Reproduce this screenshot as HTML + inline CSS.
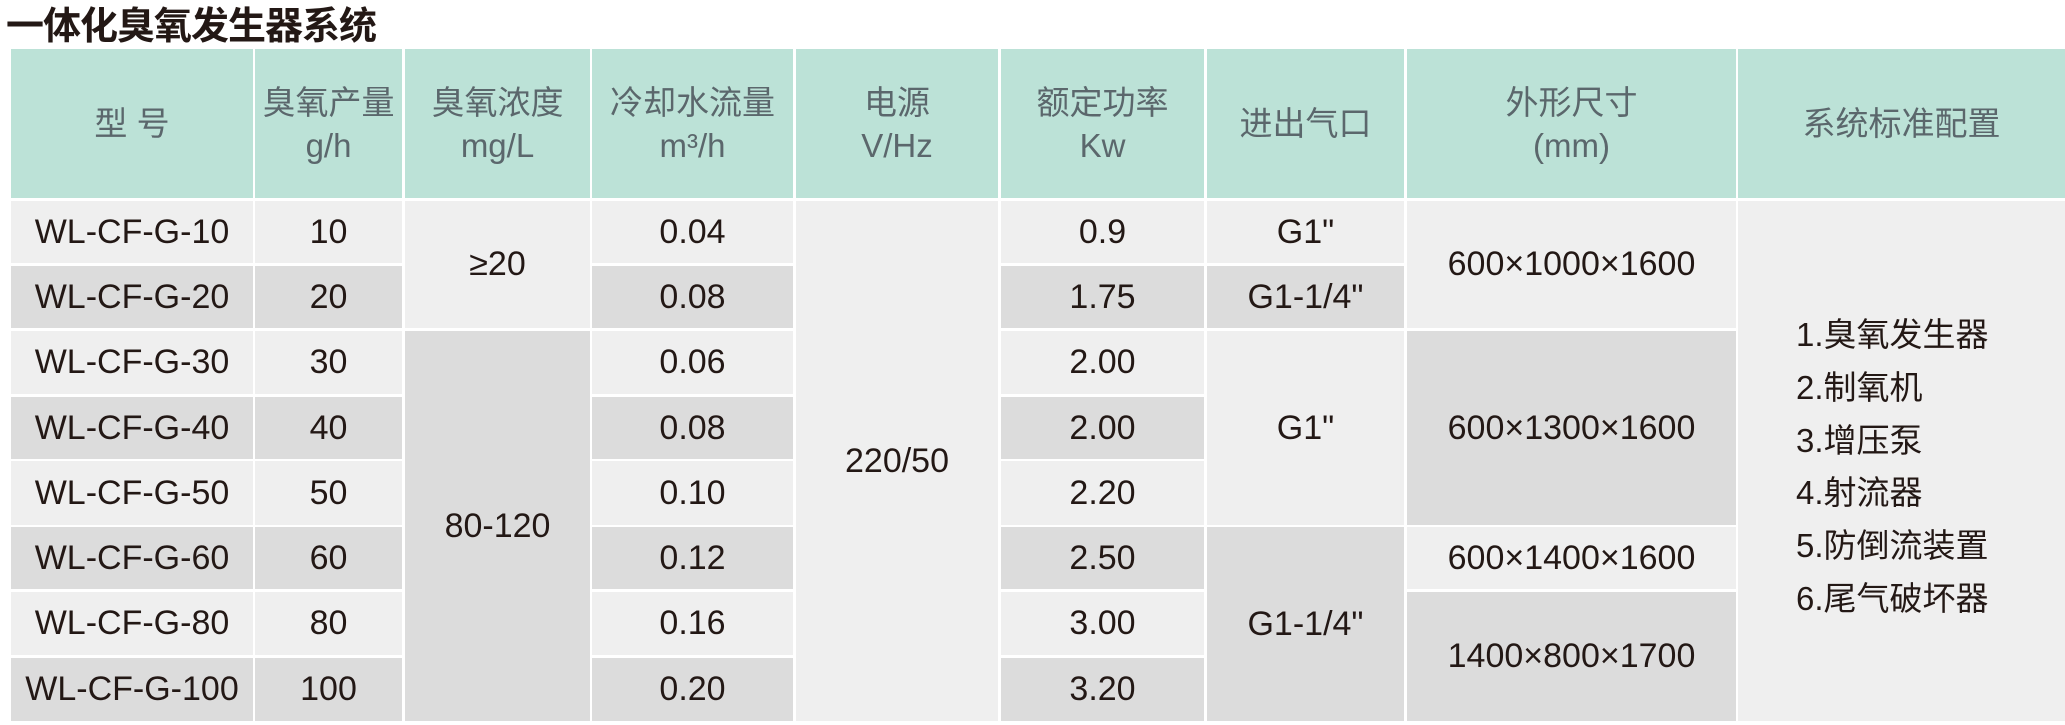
<!DOCTYPE html>
<html><head><meta charset="utf-8"><style>
body{margin:0;width:2065px;height:725px;background:#fff;position:relative;overflow:hidden;font-family:"Liberation Sans","Noto Sans CJK SC",sans-serif}
.t{position:absolute;left:6px;top:-5px;font-size:38px;font-weight:bold;color:#231815;letter-spacing:-1px}
.c{position:absolute;display:flex;align-items:center;justify-content:center;text-align:center;color:#231815;font-size:34px;line-height:43px}
.h{background:#bce2d7;color:#5b676c;font-size:33px}
.L{background:#efefef}.D{background:#dcdcdc}
.cfg{position:absolute;left:1796px;font-size:33px;color:#231815}
</style></head><body>
<div class="t">一体化臭氧发生器系统</div>
<div class="c h" style="left:11px;top:49px;width:242px;height:149px">型 号</div>
<div class="c h" style="left:255px;top:49px;width:147px;height:149px">臭氧产量<br>g/h</div>
<div class="c h" style="left:405px;top:49px;width:185px;height:149px">臭氧浓度<br>mg/L</div>
<div class="c h" style="left:592px;top:49px;width:201px;height:149px">冷却水流量<br>m³/h</div>
<div class="c h" style="left:796px;top:49px;width:202px;height:149px">电源<br>V/Hz</div>
<div class="c h" style="left:1001px;top:49px;width:203px;height:149px">额定功率<br>Kw</div>
<div class="c h" style="left:1207px;top:49px;width:197px;height:149px">进出气口</div>
<div class="c h" style="left:1407px;top:49px;width:329px;height:149px">外形尺寸<br>(mm)</div>
<div class="c h" style="left:1738px;top:49px;width:327px;height:149px">系统标准配置</div>

<div class="c L" style="left:11px;top:201px;width:242px;height:62px">WL-CF-G-10</div>
<div class="c D" style="left:11px;top:266px;width:242px;height:62px">WL-CF-G-20</div>
<div class="c L" style="left:11px;top:331px;width:242px;height:63px">WL-CF-G-30</div>
<div class="c D" style="left:11px;top:397px;width:242px;height:62px">WL-CF-G-40</div>
<div class="c L" style="left:11px;top:461px;width:242px;height:64px">WL-CF-G-50</div>
<div class="c D" style="left:11px;top:527px;width:242px;height:62px">WL-CF-G-60</div>
<div class="c L" style="left:11px;top:592px;width:242px;height:63px">WL-CF-G-80</div>
<div class="c D" style="left:11px;top:658px;width:242px;height:63px">WL-CF-G-100</div>

<div class="c L" style="left:255px;top:201px;width:147px;height:62px">10</div>
<div class="c D" style="left:255px;top:266px;width:147px;height:62px">20</div>
<div class="c L" style="left:255px;top:331px;width:147px;height:63px">30</div>
<div class="c D" style="left:255px;top:397px;width:147px;height:62px">40</div>
<div class="c L" style="left:255px;top:461px;width:147px;height:64px">50</div>
<div class="c D" style="left:255px;top:527px;width:147px;height:62px">60</div>
<div class="c L" style="left:255px;top:592px;width:147px;height:63px">80</div>
<div class="c D" style="left:255px;top:658px;width:147px;height:63px">100</div>

<div class="c L" style="left:405px;top:201px;width:185px;height:127px">≥20</div>
<div class="c D" style="left:405px;top:331px;width:185px;height:390px">80-120</div>

<div class="c L" style="left:592px;top:201px;width:201px;height:62px">0.04</div>
<div class="c D" style="left:592px;top:266px;width:201px;height:62px">0.08</div>
<div class="c L" style="left:592px;top:331px;width:201px;height:63px">0.06</div>
<div class="c D" style="left:592px;top:397px;width:201px;height:62px">0.08</div>
<div class="c L" style="left:592px;top:461px;width:201px;height:64px">0.10</div>
<div class="c D" style="left:592px;top:527px;width:201px;height:62px">0.12</div>
<div class="c L" style="left:592px;top:592px;width:201px;height:63px">0.16</div>
<div class="c D" style="left:592px;top:658px;width:201px;height:63px">0.20</div>

<div class="c L" style="left:796px;top:201px;width:202px;height:520px">220/50</div>

<div class="c L" style="left:1001px;top:201px;width:203px;height:62px">0.9</div>
<div class="c D" style="left:1001px;top:266px;width:203px;height:62px">1.75</div>
<div class="c L" style="left:1001px;top:331px;width:203px;height:63px">2.00</div>
<div class="c D" style="left:1001px;top:397px;width:203px;height:62px">2.00</div>
<div class="c L" style="left:1001px;top:461px;width:203px;height:64px">2.20</div>
<div class="c D" style="left:1001px;top:527px;width:203px;height:62px">2.50</div>
<div class="c L" style="left:1001px;top:592px;width:203px;height:63px">3.00</div>
<div class="c D" style="left:1001px;top:658px;width:203px;height:63px">3.20</div>

<div class="c L" style="left:1207px;top:201px;width:197px;height:62px">G1"</div>
<div class="c D" style="left:1207px;top:266px;width:197px;height:62px">G1-1/4"</div>
<div class="c L" style="left:1207px;top:331px;width:197px;height:194px">G1"</div>
<div class="c D" style="left:1207px;top:527px;width:197px;height:194px">G1-1/4"</div>

<div class="c L" style="left:1407px;top:201px;width:329px;height:127px">600×1000×1600</div>
<div class="c D" style="left:1407px;top:331px;width:329px;height:194px">600×1300×1600</div>
<div class="c L" style="left:1407px;top:527px;width:329px;height:62px">600×1400×1600</div>
<div class="c D" style="left:1407px;top:592px;width:329px;height:129px">1400×800×1700</div>

<div class="c L" style="left:1738px;top:201px;width:327px;height:520px"></div>
<div class="cfg" style="top:308px">1.臭氧发生器</div>
<div class="cfg" style="top:361px">2.制氧机</div>
<div class="cfg" style="top:414px">3.增压泵</div>
<div class="cfg" style="top:466px">4.射流器</div>
<div class="cfg" style="top:519px">5.防倒流装置</div>
<div class="cfg" style="top:572px">6.尾气破坏器</div>
</body></html>
